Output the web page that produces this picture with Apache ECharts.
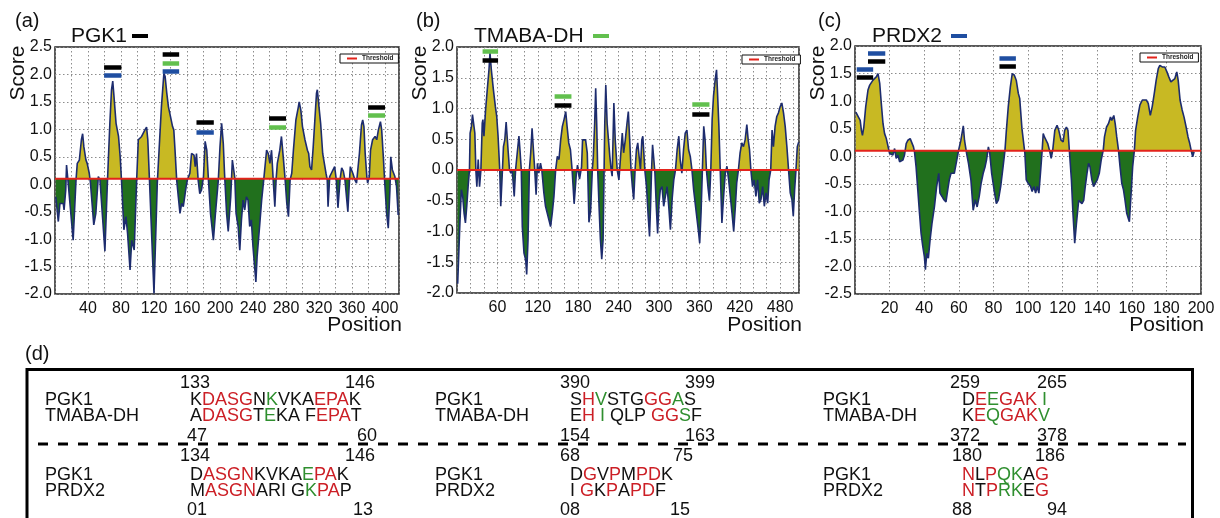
<!DOCTYPE html>
<html>
<head>
<meta charset="utf-8">
<script src="https://cdn.jsdelivr.net/npm/echarts@6/dist/echarts.min.js"></script>
<style>
html, body { margin: 0; padding: 0; background: #fff; }
#chart { width: 1220px; height: 518px; }
</style>
</head>
<body>
<div id="chart"></div>
<script>
// antigenicity profiles, [position, score]
var pgk1Profile = [[1,-0.23],[4,-0.68],[6,-0.35],[10,-0.35],[11,-0.47],[13,-0.11],[14,0.35],[16,0.02],[22,-1.02],[25.5,0.08],[27,0.38],[29.5,0.44],[32,0.81],[33.5,0.92],[35,0.68],[37.5,0.44],[39,0.38],[41.5,0.2],[43,0.02],[47,-0.74],[49.5,-0.53],[52.5,0.14],[54.5,0.08],[60.5,-1.22],[63.5,0.02],[66.5,1.11],[68.5,1.72],[70,1.88],[71.5,1.6],[74,1.11],[77,0.87],[79,0.5],[81,-0.04],[83.5,-0.83],[86,-0.59],[88,-0.9],[91,-1.56],[93,-1.02],[96,-1.2],[99,0.08],[101,0.81],[105,0.87],[109,0.99],[111,1.04],[112.5,0.81],[114.5,0.08],[120,-1.99],[124,0.02],[129,1.41],[132,2.02],[133.5,1.96],[135.5,1.66],[137.5,1.41],[140,1.23],[142.5,1.05],[144,0.99],[145.5,0.62],[147.5,0.08],[149.5,-0.23],[151.5,-0.53],[153.5,-0.35],[155.5,-0.41],[159,-0.04],[160.5,0.08],[163.5,0.2],[165.5,0.56],[168.5,0.53],[170,0.32],[171.5,0.56],[173.5,0.08],[175.5,-0.17],[177.5,-0.11],[180,0.14],[182,0.78],[184,0.62],[186,0.08],[188.5,-0.53],[192,-1.02],[194.5,-0.53],[198,0.08],[200,0.68],[202,1.11],[204,0.74],[205.5,0.2],[208,-0.53],[210,-0.86],[213,-0.23],[215,0.44],[218,0.11],[219.5,-0.53],[222,-0.77],[224,-1.2],[226,-0.65],[228,-0.29],[230,-0.47],[232,-0.23],[234,-0.29],[236,-0.77],[238,-0.65],[240,-1.14],[243.5,-1.78],[245,-1.32],[248,-0.77],[250.5,-0.29],[253,0.08],[256.5,0.62],[258.5,0.56],[260.5,0.38],[262.5,0.62],[264.5,0.08],[266.5,-0.41],[268,0.08],[269.5,0.38],[272.5,0.62],[274.5,0.87],[277,0.44],[279,0.08],[281,-0.35],[283,-0.59],[285,0.08],[287,0.2],[289,0.62],[292,1.17],[295,1.41],[296,1.5],[298,1.35],[300,1.05],[303,0.81],[306,0.62],[307.5,0.56],[309,0.32],[311,0.26],[313,0.68],[315,1.17],[317,1.66],[318,1.72],[320,1.41],[322,1.11],[324.5,0.56],[326.5,0.38],[328.5,0.2],[330,0.08],[331,-0.41],[333,0.14],[335,0.2],[337,0.26],[339,0.32],[341,0.08],[343,-0.43],[345.5,0.08],[347.5,0.3],[349.5,0.24],[351.5,0.08],[355,-0.5],[357,0.08],[358,0.32],[361,0.2],[363.5,0.08],[365.5,0.02],[369,0.56],[371.5,1.08],[373,1.17],[374.5,1.05],[376,0.56],[378,0.14],[379,0.02],[381,0.14],[382.5,0.62],[385,0.81],[388,0.87],[390,0.81],[392,0.99],[394.5,1.14],[396,0.99],[398,0.5],[399.5,0.08],[402,-0.53],[404,-0.8],[406,-0.11],[407,0.5],[409,0.26],[412,0.14],[414,-0.04],[416,-0.56]];

var tmabaProfile = [[1,-1.85],[4.5,-0.81],[6.5,-0.32],[8.5,-0.43],[10.5,-0.7],[12.5,-0.86],[14.5,-0.59],[16.5,-0.27],[18.5,0.0],[19.5,0.6],[21.5,0.71],[23,0.9],[25.5,0.87],[26.5,0.6],[28,0.0],[29.5,-0.27],[31.5,0.17],[33.5,-0.27],[35.5,0.0],[37.5,0.76],[38.5,0.82],[40,0.55],[42.5,0.98],[45,1.31],[47.5,1.63],[49,1.9],[51,1.63],[54,1.31],[57,1.03],[59,0.87],[61,0.55],[63.5,0.0],[65,-0.59],[67.5,0.0],[69,0.38],[71,0.49],[73,0.78],[76,0.3],[78,0.0],[80,-0.05],[82,0.0],[85,-0.43],[87,0.0],[89.5,0.28],[92,0.55],[93.5,0.33],[95.5,0.0],[97,-0.92],[99.5,-1.35],[102,-1.46],[103.5,-1.7],[105.5,-1.13],[107.5,0.0],[109.5,0.28],[111.5,0.68],[113.5,0.33],[115.5,0.0],[117.5,-0.4],[119.5,0.11],[121.5,-0.05],[124,0.11],[126,0.0],[129,-0.37],[131.5,-0.59],[134,-0.7],[136.5,-0.81],[139,-0.92],[141.5,-0.7],[144,-0.43],[146.5,0.0],[149,0.22],[151.5,0.17],[154,0.49],[156.5,0.71],[159,0.82],[161.5,0.95],[163.5,0.71],[166,0.44],[168.5,0.33],[171,0.0],[174,-0.55],[177,-0.1],[179,0.08],[182,-0.15],[185,0.05],[186.5,0.49],[188.5,0.52],[191,0.49],[193.5,0.28],[196,-0.85],[198.5,-0.65],[201,0.0],[202.5,0.22],[204.5,0.76],[206,1.33],[207.5,0.76],[209,0.0],[211,-0.59],[213,-1.13],[215,-1.45],[217,-1.13],[218.5,0.0],[219.5,0.76],[221,1.38],[223,0.76],[225,0.49],[227,0.22],[229,0.0],[230.5,-0.1],[233,1.09],[235,0.49],[238,0.0],[240.5,-0.16],[243,0.22],[245.5,0.6],[247.5,0.28],[250,0.49],[252.5,0.76],[254.5,0.95],[256.5,0.49],[258.5,0.0],[260.5,-0.27],[262.5,-0.48],[264.5,0.0],[266.5,0.33],[268.5,0.44],[270.5,0.22],[272.5,0.0],[274.5,0.49],[276,0.55],[277.5,0.28],[279,0.0],[281.5,-0.27],[284,-0.75],[286,-1.08],[287.5,-0.59],[289,0.0],[290.5,0.41],[292,0.22],[294,-0.05],[296,-0.59],[298,-1.03],[300,-0.54],[302,-0.32],[304.5,-0.27],[307,-0.59],[309.5,-0.43],[312,-0.27],[314.5,-0.59],[317,-0.97],[319.5,-0.48],[322,-0.16],[324.5,0.0],[327,0.33],[329.5,0.55],[331.5,0.17],[334,-0.05],[336.5,0.33],[339,0.6],[341.5,0.65],[344,0.33],[346.5,0.22],[349,0.0],[351.5,-0.32],[355.5,-0.7],[359,-1.03],[360.5,-1.19],[362.5,-0.7],[364.5,0.0],[366.5,0.71],[368.5,0.49],[370.5,0.0],[373,-0.3],[375,-0.5],[377,0.0],[379,0.82],[381,1.2],[383.5,1.47],[385.5,1.63],[387,1.25],[389,0.71],[391,0.0],[393.5,-0.86],[396,-0.43],[398.5,-0.05],[401,0.06],[403.5,-0.16],[406,-0.43],[408.5,-0.7],[411,-1.0],[413.5,-0.59],[415.5,-0.21],[418,0.0],[420.5,0.28],[423,0.44],[425.5,0.38],[428,0.49],[430.5,0.74],[432.5,0.49],[434.5,0.33],[436.5,0.0],[439,-0.27],[441.5,-0.16],[444,-0.43],[446.5,-0.16],[449,-0.54],[451.5,-0.48],[454,-0.27],[456.5,-0.59],[459,-0.37],[461.5,-0.54],[463.5,-0.16],[466,0.0],[468,0.65],[470,0.38],[472.5,0.71],[475,0.87],[477.5,0.93],[480,1.03],[482.5,1.09],[485,0.93],[487.5,0.71],[490,0.38],[492.5,0.0],[495,-0.37],[497.5,-0.48],[499.5,-0.75],[501.5,-0.32],[503.5,0.0],[505.5,0.38],[507.5,0.45]];

var prdx2Profile = [[0.5,0.8],[2,0.71],[3,0.65],[3.7,0.47],[4.3,0.38],[5.1,0.53],[6.2,0.9],[7.5,1.2],[8.5,1.29],[9.5,1.32],[10.4,1.38],[11.4,1.35],[12.3,1.44],[13.3,1.5],[14.3,1.32],[15.2,0.96],[16.2,0.59],[17.1,0.41],[18.1,0.32],[19,0.29],[20,0.05],[21,0.08],[21.9,0.02],[22.9,0.14],[23.8,-0.04],[24.8,0.02],[25.8,-0.1],[26.7,-0.13],[27.7,-0.07],[28.6,0.02],[29.6,0.23],[30.6,0.29],[31.9,0.32],[33,0.35],[33.8,0.17],[34.4,0.08],[35.3,-0.19],[36.3,-0.61],[37.3,-1.04],[38.2,-1.4],[39.2,-1.64],[40.1,-1.82],[40.7,-2.06],[41.5,-1.76],[42.4,-1.85],[43.4,-1.52],[44.5,-1.22],[45.9,-0.92],[47.2,-0.55],[48.4,-0.31],[49.1,-0.67],[50.3,-0.73],[51.4,-0.79],[52.6,-0.83],[53.6,-0.61],[54.5,-0.43],[55.5,-0.31],[56.4,-0.28],[57.4,-0.31],[58.4,-0.31],[59.9,0.11],[61.2,0.29],[62.6,0.55],[63.3,0.29],[64.5,0.05],[65.6,-0.13],[67,-0.43],[68.3,-0.98],[69.5,-0.79],[70.6,-0.92],[71.8,-0.73],[72.9,-0.49],[74.1,-0.31],[75.2,-0.19],[76,-0.07],[77.1,0.17],[77.9,0.05],[79,-0.31],[80.4,-0.61],[81.7,-0.86],[82.9,-0.79],[84.2,-0.55],[85.6,-0.19],[86.7,0.11],[87.5,0.47],[88.6,0.9],[89.8,1.26],[90.9,1.5],[92.1,1.47],[93.2,1.38],[94.4,1.14],[95.2,1.05],[96.5,0.5],[98.2,0.05],[99,-0.43],[100.1,-0.49],[101.5,-0.55],[102.4,-0.64],[103.4,-0.55],[104.4,-0.67],[105.3,-0.55],[106.3,-0.67],[107.2,-0.31],[108.2,0.11],[108.8,0.41],[109.5,0.35],[110.5,0.38],[111.4,0.23],[112.4,0.11],[113.4,-0.04],[114.3,0.11],[115.5,0.47],[116.8,0.56],[117.8,0.47],[119.1,0.29],[120.3,0.26],[121.2,0.47],[122.2,0.53],[123.1,0.47],[123.9,0.11],[125.1,-0.43],[126,-1.04],[127,-1.58],[128,-1.22],[129.3,-0.8],[130.2,-0.8],[131.2,-0.86],[132.2,-0.8],[133.1,-0.55],[134.1,-0.31],[135,-0.13],[135.8,-0.19],[136.9,-0.43],[137.9,-0.55],[138.9,-0.49],[140,-0.43],[141.2,-0.31],[142.3,-0.07],[143.5,0.11],[144.2,0.35],[145.4,0.53],[146.5,0.59],[147.7,0.71],[148.4,0.65],[149.6,0.74],[150.4,0.59],[151.3,0.35],[152.3,0.11],[153.2,-0.19],[154.2,-0.49],[155.2,-0.61],[156.1,-0.8],[157.1,-1.04],[158,-1.13],[158.6,-1.19],[159.6,-0.67],[160.5,-0.19],[161.5,0.11],[162.2,0.47],[163.4,0.71],[164.7,0.93],[166.1,1.02],[167.2,0.99],[168.4,1.02],[169.5,0.96],[170.7,0.74],[171.8,0.9],[173,1.14],[174.1,1.38],[175.3,1.59],[176.2,1.65],[177.6,1.62],[179.1,1.62],[180.3,1.53],[181.4,1.44],[182.6,1.35],[183.7,1.32],[184.9,1.41],[186,1.53],[186.8,1.38],[187.9,1.02],[189.1,0.84],[190.2,0.71],[191.4,0.53],[192.5,0.35],[193.5,0.23],[194.5,0.08],[195.2,-0.01],[196,0.08]];

var thresholds = [0.1, 0.0, 0.1];
var proteinNames = ['PGK1', 'TMABA-DH', 'PRDX2'];
var panelLetters = ['(a)', '(b)', '(c)'];
var xMaxes = [417, 508, 200];
var xLabelSteps = [40, 60, 20];
var yRanges = [[-2.0, 2.5], [-2.0, 2.0], [-2.5, 2.0]];

// shared epitopes: [start, end, score level, protein that predicted it]
var pgk1Epitopes = [[59.5,80.5,2.14,'PGK1'],[59.5,80.5,1.99,'PRDX2'],[130.5,150.5,2.37,'PGK1'],[130.5,150.5,2.21,'TMABA-DH'],[130.5,150.5,2.06,'PRDX2'],[171.5,192.5,1.12,'PGK1'],[171.5,192.5,0.95,'PRDX2'],[259.5,280,1.2,'PGK1'],[259.5,280,1.04,'TMABA-DH'],[379.5,400,1.41,'PGK1'],[379.5,400,1.26,'TMABA-DH']];
var tmabaEpitopes = [[38,61,1.93,'TMABA-DH'],[38,61,1.79,'PGK1'],[145,170,1.2,'TMABA-DH'],[145,170,1.06,'PGK1'],[349.5,375,1.07,'TMABA-DH'],[349.5,375,0.91,'PGK1']];
var prdx2Epitopes = [[1,10.5,1.57,'PRDX2'],[1,10.5,1.43,'PGK1'],[7.5,17.5,1.86,'PRDX2'],[7.5,17.5,1.72,'PGK1'],[83.5,93,1.77,'PRDX2'],[83.5,93,1.63,'PGK1']];

// (d) alignments: upper three blocks PGK1/TMABA-DH, lower three PGK1/PRDX2
var alignNames = [['PGK1', 'TMABA-DH'], ['PGK1', 'PRDX2']];
var alignSeqs = [['KDASGNKVKAEPAK','ADASGTEKA FEPAT'],['SHVSTGGGAS','EH I QLP GGSF'],['DEEGAK I','KEQGAKV'],
                 ['DASGNKVKAEPAK','MASGNARI GKPAP'],['DGVPMPDK','I GKPAPDF'],['NLPQKAG','NTPRKEG']];
var alignMasks = [['krrrrkgkkkrrrk','krrrrkgkkkkrrrk'],['krgkkkrrgk','krkgkkkkkrrgk'],['krgrrrkg','krgrrrg'],
                  ['krrrrkkkkgrrk','krrrrkkkkkgrrk'],['krkrkrrk','kkrkrkrrk'],['rkrggkr','rkrggkr']];
var alignNumbers = [['133','146','47','60'],['390','399','154','163'],['259','265','372','378'],
                    ['134','146','01','13'],['68','75','08','15'],['180','186','88','94']];

var FONT = '"Liberation Sans", Arial, Helvetica, sans-serif';
var YELLOW = '#c8b923', GREEN = '#21701d', NAVY = '#1d2c6e', RED = '#e3231b';
var SEQ_RED = '#cc1f26', SEQ_GREEN = '#2f8f2f';
var epiColors = { 'PGK1': '#000000', 'TMABA-DH': '#62c04e', 'PRDX2': '#1f4ea1' };

var profiles = [pgk1Profile, tmabaProfile, prdx2Profile];
var epitopes = [pgk1Epitopes, tmabaEpitopes, prdx2Epitopes];
var grids = [
    { left: 55, top: 47, width: 344, height: 247 },
    { left: 457, top: 47, width: 342, height: 246 },
    { left: 855, top: 46, width: 346, height: 248 }
];
var legendPos = [[340, 54], [742, 55], [1140, 53]];

var option = {
    animation: false,
    backgroundColor: '#fff',
    grid: [], xAxis: [], yAxis: [], series: [], visualMap: [], legend: [], graphic: []
};

var gridLine = { show: true, lineStyle: { color: '#8c8c8c', type: [1.5, 2.5], width: 1 } };

for (var i = 0; i < 3; i++) {
    (function (i) {
        var g = grids[i];
        option.grid.push({
            left: g.left, top: g.top, width: g.width, height: g.height,
            show: true, borderColor: '#222', borderWidth: 1.5, backgroundColor: '#fff',
            outerBoundsMode: 'none'
        });
        option.xAxis.push({
            type: 'value', gridIndex: i, min: 0, max: xMaxes[i], interval: 20,
            axisLine: { show: false }, axisTick: { show: false }, splitLine: gridLine,
            axisLabel: {
                margin: 7, fontSize: 16, color: '#111', fontFamily: FONT,
                formatter: function (v) { return (v > 0 && v % xLabelSteps[i] === 0) ? String(v) : ''; }
            }
        });
        option.yAxis.push({
            type: 'value', gridIndex: i, min: yRanges[i][0], max: yRanges[i][1], interval: 0.5,
            axisLine: { show: false }, axisTick: { show: false }, splitLine: gridLine,
            axisLabel: {
                margin: 3, fontSize: 16, color: '#111', fontFamily: FONT,
                formatter: function (v) { return v.toFixed(1); }
            }
        });
        var thr = thresholds[i];
        // filled area, coloured by side of the threshold
        option.series.push({
            type: 'line', xAxisIndex: i, yAxisIndex: i, data: profiles[i],
            symbol: 'none', silent: true, z: 2,
            lineStyle: { width: 0 },
            areaStyle: { origin: thr, opacity: 1 }
        });
        option.visualMap.push({
            type: 'piecewise', show: false, seriesIndex: option.series.length - 1, dimension: 1,
            pieces: [{ gt: thr, lte: 5, color: YELLOW }, { gt: -5, lte: thr, color: GREEN }],
            outOfRange: { color: GREEN }
        });
        // profile outline and epitope bars
        option.series.push({
            type: 'line', xAxisIndex: i, yAxisIndex: i, data: profiles[i],
            symbol: 'none', silent: true, z: 3,
            itemStyle: { color: NAVY },
            lineStyle: { color: NAVY, width: 1.6 },
            markLine: {
                silent: true, symbol: ['none', 'none'], label: { show: false },
                data: epitopes[i].map(function (e) {
                    return [
                        { coord: [e[0], e[2]], lineStyle: { color: epiColors[e[3]], width: 4.5, type: 'solid' } },
                        { coord: [e[1], e[2]] }
                    ];
                })
            }
        });
        option.series.push({
            name: 'Threshold', type: 'line', xAxisIndex: i, yAxisIndex: i,
            data: [[0, thr], [xMaxes[i], thr]], symbol: 'none', silent: true, z: 4,
            itemStyle: { color: RED }, lineStyle: { color: RED, width: 2 }
        });
        option.legend.push({
            left: legendPos[i][0], top: legendPos[i][1], data: ['Threshold'], selectedMode: false,
            icon: 'rect', itemWidth: 10, itemHeight: 2, padding: [1, 5, 1, 7],
            borderColor: '#111', borderWidth: 1, backgroundColor: '#fff', borderRadius: 0,
            textStyle: { fontSize: 6.5, fontWeight: 'bold', color: '#222', fontFamily: FONT }
        });

        // panel letter, protein name with its colour key, axis names
        var tx = [15, 416, 818][i], nx = [71, 474, 872][i], dx = [132, 593, 951][i];
        option.graphic.push(
            { type: 'text', x: tx, y: 21, style: { text: panelLetters[i], fontSize: 20, fontFamily: FONT, fill: '#111', align: 'left', verticalAlign: 'middle' } },
            { type: 'text', x: nx, y: 36, style: { text: proteinNames[i], fontSize: 21, fontFamily: FONT, fill: '#111', align: 'left', verticalAlign: 'middle' } },
            { type: 'rect', shape: { x: dx, y: 34, width: 16, height: 4 }, style: { fill: epiColors[proteinNames[i]] } },
            { type: 'text', x: g.left - 37, y: 73, rotation: Math.PI / 2, style: { text: 'Score', fontSize: 21, fontFamily: FONT, fill: '#111', align: 'center', verticalAlign: 'middle' } },
            { type: 'text', x: g.left + g.width + 3, y: 325, style: { text: 'Position', fontSize: 21, fontFamily: FONT, fill: '#111', align: 'right', verticalAlign: 'middle' } }
        );
    })(i);
}

// panel (d)
function richSeq(seq, mask) {
    var out = '', cur = mask[0], buf = '';
    for (var k = 0; k < seq.length; k++) {
        if (mask[k] !== cur) { out += '{' + cur + '|' + buf + '}'; cur = mask[k]; buf = ''; }
        buf += seq[k];
    }
    return out + '{' + cur + '|' + buf + '}';
}
var seqRich = {
    k: { fill: '#111', fontSize: 18, fontFamily: FONT },
    r: { fill: SEQ_RED, fontSize: 18, fontFamily: FONT },
    g: { fill: SEQ_GREEN, fontSize: 18, fontFamily: FONT }
};
var labelX = [45, 435, 823];
var seqX = [190, 570, 962];
var numLeftX = [[180, 187], [560, 560], [950, 950], [180, 187], [560, 560], [952, 952]];
var numRightX = [[375, 377], [715, 715], [1067, 1067], [375, 373], [693, 690], [1065, 1067]];
var rowY = [[383.5, 400, 416, 436.5], [456.5, 475, 491, 510]];

option.graphic.push(
    { type: 'text', x: 25, y: 354, style: { text: '(d)', fontSize: 20, fontFamily: FONT, fill: '#111', align: 'left', verticalAlign: 'middle' } },
    { type: 'rect', shape: { x: 27, y: 369.5, width: 1165.5, height: 200 }, style: { fill: 'none', stroke: '#000', lineWidth: 3 } },
    { type: 'line', shape: { x1: 38, y1: 444, x2: 1186, y2: 444 }, style: { stroke: '#000', lineWidth: 3, lineDash: [10, 10] } }
);
function plainText(x, y, txt, align) {
    return { type: 'text', x: x, y: y, z: 10, style: { text: txt, fontSize: 18, fontFamily: FONT, fill: '#111', align: align, verticalAlign: 'middle' } };
}
for (var b = 0; b < 6; b++) {
    var grp = b < 3 ? 0 : 1, col = b % 3, ys = rowY[grp];
    option.graphic.push(
        plainText(labelX[col], ys[1], alignNames[grp][0], 'left'),
        plainText(labelX[col], ys[2], alignNames[grp][1], 'left'),
        plainText(numLeftX[b][0], ys[0], alignNumbers[b][0], 'left'),
        plainText(numRightX[b][0], ys[0], alignNumbers[b][1], 'right'),
        plainText(numLeftX[b][1], ys[3], alignNumbers[b][2], 'left'),
        plainText(numRightX[b][1], ys[3], alignNumbers[b][3], 'right'),
        { type: 'text', x: seqX[col], y: ys[1], z: 10, style: { text: richSeq(alignSeqs[b][0], alignMasks[b][0]), rich: seqRich, fontSize: 18, fontFamily: FONT, align: 'left', verticalAlign: 'middle' } },
        { type: 'text', x: seqX[col], y: ys[2], z: 10, style: { text: richSeq(alignSeqs[b][1], alignMasks[b][1]), rich: seqRich, fontSize: 18, fontFamily: FONT, align: 'left', verticalAlign: 'middle' } }
    );
}

var chart = echarts.init(document.getElementById('chart'), null, { renderer: 'canvas' });
chart.setOption(option);
</script>
</body>
</html>
